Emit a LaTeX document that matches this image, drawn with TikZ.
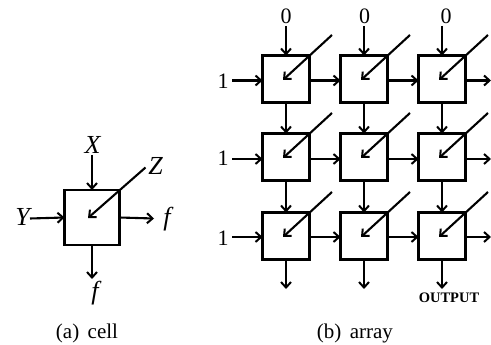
\documentclass[tikz,border=0pt]{standalone}
\usepackage{fontspec}
\setmainfont{Liberation Serif}
\usetikzlibrary{arrows.meta}
\begin{document}
\begin{tikzpicture}[x=1pt,y=-1pt,
  cell/.style={draw,line width=2.3pt,minimum width=55pt,minimum height=55pt,inner sep=0pt,outer sep=0pt},
  acell/.style={draw,line width=2.1pt,minimum width=47pt,minimum height=47pt,inner sep=0pt,outer sep=0pt},
  wire/.style={line width=2.1pt,-{Straight Barb[length=5.5pt,width=10pt,line width=2pt]},shorten >=0pt},
  lab/.style={font=\fontsize{26}{26}\selectfont\itshape,inner sep=0pt},
  num/.style={font=\fontsize{22}{22}\selectfont,inner sep=0pt},
  captext/.style={font=\fontsize{21}{23}\selectfont,inner sep=0pt}]
\useasboundingbox (0,0) rectangle (491,345);
% cell
\node[cell] (c) at (92,217.5) {};
\coordinate (cc) at (88,218);
\node[lab] (X) at (92.5,145) {X};
\node[lab] (Y) at (22.5,217) {Y};
\node[lab] (Z) at (155.5,166) {Z};
\node[lab] (f1) at (167,219) {f};
\node[lab] (f2) at (95,293) {f};
\coordinate (Zs) at (145.5,167.5);
\coordinate (Xs) at (92,155);
\coordinate (Ys) at (30,218.5);
\coordinate (f1e) at (154,218.5);
\coordinate (f2e) at (92,279);
\draw[wire] (Xs) -- (c.north);
\draw[wire] (Ys) -- (c.west);
\draw[wire] (c.east) -- (f1e);
\draw[wire] (c.south) -- (f2e);
\draw[wire] (Zs) -- (cc);
% array
\foreach \n/\x/\zx in {1/286/286,2/364/364.7,3/442/446}{
  \foreach \m/\y in {1/79,2/157,3/236}{
    \node[acell] (a\m\n) at (\x,\y) {};
    \coordinate (t\m\n) at (\x-3,\y+1);
    \coordinate (s\m\n) at (\x+46,\y-44);
    \draw[wire] (s\m\n) -- (t\m\n);
  }
  \node[num] (zero\n) at (\zx,16.5) {0};
  \coordinate (zs\n) at (\x,26);
  \draw[wire] (zs\n) -- (a1\n.north);
  \draw[wire] (a1\n.south) -- (a2\n.north);
  \draw[wire] (a2\n.south) -- (a3\n.north);
  \coordinate (e\n) at (\x,289);
  \draw[wire] (a3\n.south) -- (e\n);
}
\foreach \m/\y/\oy in {1/80.5/81.5,2/159/158,3/237/238}{
  \node[num] (one\m) at (223,\oy) {1};
  \coordinate (os\m) at (232,\y);
  \draw[wire] (os\m) -- (a\m1.west |- os\m);
  \draw[wire] (a\m1.east |- os\m) -- (a\m2.west |- os\m);
  \draw[wire] (a\m2.east |- os\m) -- (a\m3.west |- os\m);
  \coordinate (oe\m) at (491,\y);
  \draw[wire] (a\m3.east |- os\m) -- (oe\m);
}
\node[font=\fontsize{14.5}{16}\selectfont\bfseries,inner sep=0pt] (out) at (449,297.5) {OUTPUT};
\node[captext] (capa) at (87,333) {(a)\hspace{0.4em}cell};
\node[captext] (capb) at (355,333) {(b)\hspace{0.4em}array};
\end{tikzpicture}
\end{document}
